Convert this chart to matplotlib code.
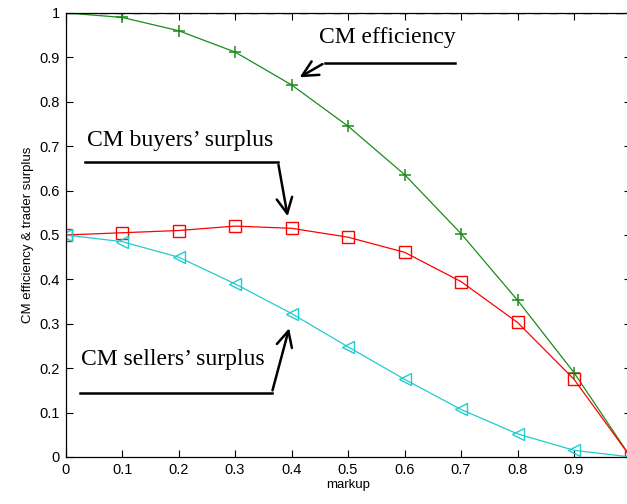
import numpy as np
import matplotlib
matplotlib.use('Agg')
import matplotlib.pyplot as plt

markup = [0, 0.1, 0.2, 0.3, 0.4, 0.5, 0.6, 0.7, 0.8, 0.9, 1.0]
efficiency = [1.0, 0.99, 0.96, 0.912, 0.838, 0.745, 0.636, 0.503, 0.353, 0.19, 0.0]
buyers = [0.5, 0.505, 0.51, 0.52, 0.515, 0.495, 0.461, 0.395, 0.303, 0.175, 0.0]
sellers = [0.5, 0.485, 0.45, 0.39, 0.323, 0.248, 0.175, 0.107, 0.052, 0.015, 0.0]
ticks = [0, 0.1, 0.2, 0.3, 0.4, 0.5, 0.6, 0.7, 0.8, 0.9, 1]
y_labels = ['0', '0.1', '0.2', '0.3', '0.4', '0.5', '0.6', '0.7', '0.8', '0.9', '1']
x_labels = ['0', '0.1', '0.2', '0.3', '0.4', '0.5', '0.6', '0.7', '0.8', '0.9', '']

plt.rcParams['font.family'] = ['Liberation Sans', 'DejaVu Sans']

fig = plt.figure(figsize=(6.27, 5.04), dpi=100)
ax = fig.add_axes([0.1046, 0.0933, 0.901, 0.881])

# reference line at 1
ax.plot([0, 1], [1, 1], color='blue', lw=1.2, zorder=1)
ax.plot([0, 1], [1, 1], color='black', lw=1.0, ls=(0, (6, 6)), zorder=1)

ax.plot(markup, efficiency, color='#1a8c1a', lw=0.9, marker='+', ms=9, mew=1.1)
ax.plot(markup, buyers, color='red', lw=0.9, marker='s', ms=9, mfc='none', mew=1.0)
ax.plot(markup, sellers, color='#22cccc', lw=0.9, marker='<', ms=9, mfc='none', mew=1.0)

ax.set_xlim(0, 1)
ax.set_ylim(0, 1)
ax.set_xticks(ticks)
ax.set_xticklabels(x_labels, fontsize=10.5)
ax.set_yticks(ticks)
ax.set_yticklabels(y_labels, fontsize=10.5)
ax.tick_params(direction='in', top=True, right=True, length=5, width=0.8, pad=4)
for s in ax.spines.values():
    s.set_linewidth(0.9)
ax.set_xlabel('markup', fontsize=9.5, labelpad=2)
ax.set_ylabel('CM efficiency & trader surplus', fontsize=9.5, labelpad=4)

serif = ['Liberation Serif', 'DejaVu Serif']
arrow = dict(arrowstyle='->', lw=1.8, color='black', mutation_scale=28)

# CM efficiency
ax.text(0.448, 0.945, 'CM efficiency', family=serif, fontsize=17,
        ha='left', va='center')
ax.plot([0.689, 0.459], [0.888, 0.888], color='black', lw=1.8)
ax.annotate('', xy=(0.41, 0.852), xytext=(0.459, 0.888), arrowprops=arrow)

# CM buyers' surplus
ax.text(0.038, 0.713, 'CM buyers\u2019 surplus', family=serif, fontsize=17,
        ha='left', va='center', bbox=dict(fc='white', ec='none', pad=1))
ax.plot([0.034, 0.376], [0.664, 0.664], color='black', lw=1.8)
ax.annotate('', xy=(0.394, 0.536), xytext=(0.376, 0.664), arrowprops=arrow)

# CM sellers' surplus
ax.text(0.028, 0.22, 'CM sellers\u2019 surplus', family=serif, fontsize=17,
        ha='left', va='center', bbox=dict(fc='white', ec='none', pad=1))
ax.plot([0.026, 0.365], [0.144, 0.144], color='black', lw=1.8)
ax.annotate('', xy=(0.397, 0.296), xytext=(0.365, 0.144), arrowprops=arrow)

fig.savefig('out.png', dpi=100)
